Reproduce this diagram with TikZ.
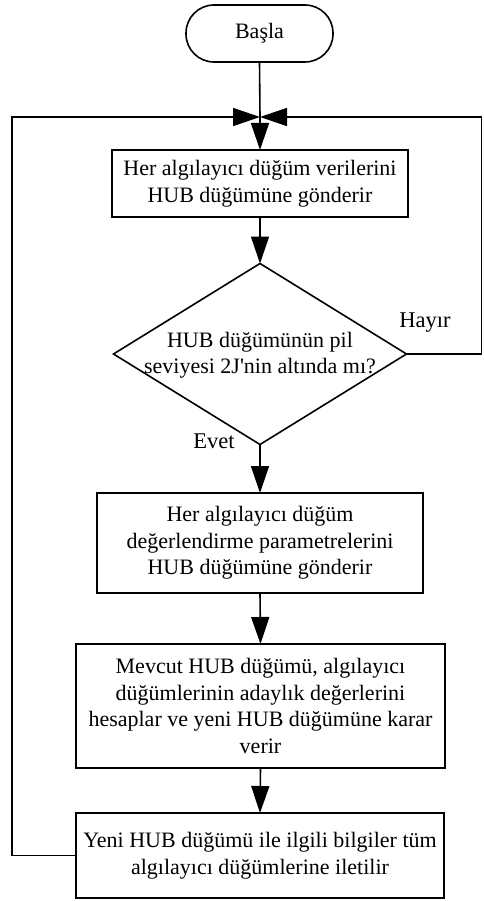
\documentclass[tikz,border=0pt]{standalone}
\usepackage{fontspec}
\setmainfont{Liberation Serif}[Ligatures=TeXOff]
\usetikzlibrary{arrows.meta,shapes.geometric}
\begin{document}
\begin{tikzpicture}[x=1pt,y=-1pt,
  line width=1.6pt,
  every node/.style={font=\fontsize{22}{26.5}\selectfont, inner sep=0pt, outer sep=0pt},
  procbox/.style={draw, rectangle, align=center},
  termbox/.style={draw, rectangle, rounded corners=28pt, minimum width=147pt, minimum height=57pt},
  decbox/.style={draw, diamond, minimum width=293pt, minimum height=181pt},
  flow/.style={-{Triangle[length=27pt,width=18pt]}},
  lbl/.style={font=\fontsize{22.5}{26}\selectfont}]
\useasboundingbox (0,0) rectangle (483,901);

% start terminal
\node[termbox] (start) at (259.5,33.5) {Başla};

% merge point where both loops and the start line meet
\coordinate (join) at (260,117);

\node[procbox, minimum width=296pt, minimum height=67pt] (send) at (260,183.5)
  {Her algılayıcı düğüm verilerini\\HUB düğümüne gönderir};

\node[decbox] (check) at (260,354) {};
\node[align=center] (checktext) at (260,355)
  {HUB düğümünün pil\\seviyesi 2J'nin altında mı?};

\node[procbox, minimum width=326pt, minimum height=100pt] (params) at (260,543)
  {Her algılayıcı düğüm\\değerlendirme parametrelerini\\HUB düğümüne gönderir};

\node[procbox, minimum width=369pt, minimum height=124pt] (decide) at (260.5,706)
  {Mevcut HUB düğümü, algılayıcı\\düğümlerinin adaylık değerlerini\\hesaplar ve yeni HUB düğümüne karar\\verir};

\node[procbox, minimum width=368pt, minimum height=85pt] (inform) at (260,855.5)
  {Yeni HUB düğümü ile ilgili bilgiler tüm\\algılayıcı düğümlerine iletilir};

\node[lbl] (no) at (425,323) {Hayır};
\node[lbl] (yes) at (214,441) {Evet};

% connectors
\coordinate (rtop) at (481.5,117);
\coordinate (rbot) at (481.5,354);
\coordinate (ltop) at (12,117);
\coordinate (lbot) at (12,855.5);

\draw (start.south) -- (join);
\draw[flow] (join) -- (send.north);
\draw[flow] (send.south) -- (check.north);
\draw[flow] (check.south) -- (params.north);
\draw[flow] (params.south) -- (decide.north);
\draw[flow] (decide.south) -- (inform.north);
\draw[flow] (check.east) -- (rbot) -- (rtop) -- (join);
\draw[flow] (inform.west) -- (lbot) -- (ltop) -- (join);
\end{tikzpicture}
\end{document}
